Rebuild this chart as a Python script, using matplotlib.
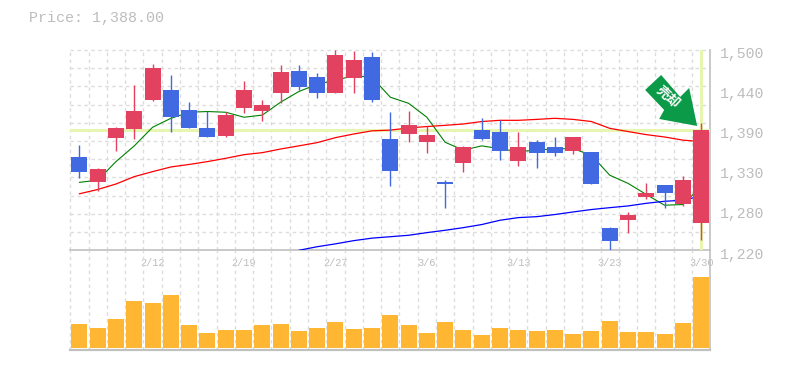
import matplotlib
matplotlib.use('Agg')
import matplotlib.pyplot as plt
from matplotlib.patches import Polygon
from matplotlib.transforms import Affine2D, ScaledTranslation

# candle data
opens = [1350.5, 1315.5, 1377, 1389.6, 1430, 1444, 1416, 1391, 1379.8, 1419, 1414.7, 1440,
         1470.7, 1462, 1440, 1461, 1490, 1375.6, 1382.6, 1371.4, 1315.5, 1342, 1388, 1385.4,
         1345, 1371.4, 1364.4, 1358.8, 1357.4, 1251, 1262.4, 1294.5, 1311, 1284.8, 1258.7]
closes = [1329.5, 1333.7, 1391, 1414.7, 1474.8, 1406.4, 1391, 1378.4, 1409, 1444, 1423, 1469,
          1448.3, 1440, 1493, 1486, 1430, 1331, 1395, 1381, 1312.7, 1364.4, 1375.6, 1358.8,
          1364.4, 1356, 1356, 1378.4, 1312.7, 1233, 1269.4, 1300, 1300, 1318.3, 1388]
highs = [1367, 1335, 1392.4, 1451, 1480.4, 1465, 1427, 1414.7, 1413, 1456.7, 1430, 1479,
         1479, 1468, 1500, 1498.6, 1497, 1413, 1414.7, 1393.8, 1318.3, 1365.8, 1405, 1402,
         1385.4, 1374, 1378.4, 1378.4, 1357.4, 1252.6, 1273.6, 1314, 1311, 1324, 1398]
lows = [1321, 1303.4, 1358.8, 1375.6, 1428.7, 1385.4, 1391, 1378.4, 1378.4, 1412, 1400.8, 1426,
        1444, 1433, 1440, 1440, 1427, 1310, 1371.4, 1356, 1279, 1329.5, 1374, 1346,
        1338, 1335, 1352, 1354.6, 1312.7, 1219, 1244, 1291.7, 1279, 1282, 1234.4]

ma_short = [1315, 1318, 1344, 1366, 1392, 1404.5, 1413, 1414, 1413, 1406, 1409, 1427,
            1442, 1452, 1458, 1463.7, 1462, 1434, 1425.5, 1406, 1371, 1360, 1366, 1362,
            1358, 1360, 1362, 1362, 1353, 1325, 1313.6, 1298, 1283, 1284, 1309]
ma_mid = [1299, 1305, 1312.7, 1323, 1330, 1336.5, 1340, 1344, 1348.6, 1353.7, 1356.5, 1361.6,
          1366, 1370.5, 1377.5, 1382.6, 1387, 1388, 1391, 1393, 1394.7, 1396.6, 1400, 1401.7,
          1401.7, 1403, 1404.5, 1403, 1400, 1390.5, 1386, 1381.7, 1378.4, 1374, 1372]
ma_long = [1220, 1225, 1229, 1233.5, 1237, 1239, 1241, 1244.7, 1248, 1251.7, 1256, 1262,
           1265.7, 1267, 1270, 1273.6, 1277, 1279.6, 1282, 1285.7, 1288.5, 1290, 1296]

volumes = [72, 60, 87, 141, 135, 159, 69, 45, 54, 54, 69, 72, 51, 60, 78, 57, 60, 99,
           69, 45, 78, 54, 39, 60, 54, 51, 54, 42, 51, 81, 48, 48, 42, 75, 213]

date_pos = [4, 9, 14, 19, 24, 29, 34]
date_labels = ['2/12', '2/19', '2/27', '3/6', '3/13', '3/23', '3/30']
price_ticks = [1220, 1276, 1332, 1388, 1444, 1500]
price_labels = ['1,220', '1,280', '1,330', '1,390', '1,440', '1,500']
last_price = 1388

RED = '#e2425f'
BLUE = '#4169e1'
GRID = '#dcdcdc'
AXIS = '#c0c0c0'
MARK = '#e6f5b0'
TEXT = '#bdbdbd'
W, H = 785, 370
LEFT, RIGHT = 70.3, 710.3
TOP, MID, BOTTOM = 50, 250.3, 350

plt.rcParams['font.family'] = ['Liberation Mono', 'DejaVu Sans Mono']

fig = plt.figure(figsize=(W / 100, H / 100), dpi=100)
ax = fig.add_axes([LEFT / W, 1 - MID / H, (RIGHT - LEFT) / W, (MID - TOP) / H])
ax2 = fig.add_axes([LEFT / W, 1 - BOTTOM / H, (RIGHT - LEFT) / W, (BOTTOM - MID) / H])

n = len(opens)
xs = list(range(n))
for a in (ax, ax2):
    a.set_xlim(-0.5, n - 0.5)
    a.patch.set_alpha(0)
    for s in a.spines.values():
        s.set_visible(False)
    # 縦のグリッド
    for i in xs:
        a.axvline(i - 0.5, color=GRID, lw=1, dashes=(2.5, 2.5), zorder=0, clip_on=False)
ax.set_ylim(1220, 1500)
ax2.set_ylim(-6, 293)

# 横のグリッド
step = (1500 - 1220) / 11
for k in range(11):
    ax.axhline(1220 + step * (k + 1), color=GRID, lw=1, dashes=(2.5, 2.5), zorder=0, clip_on=False)

# 枠線
ax.axhline(1220, color=AXIS, lw=1.2, zorder=1, clip_on=False)
ax.axvline(n - 0.5, color=AXIS, lw=1.2, zorder=1, clip_on=False)
ax2.axvline(n - 0.5, color=AXIS, lw=1.2, zorder=1, clip_on=False)
ax2.axhline(ax2.get_ylim()[0], color=AXIS, lw=1.6, zorder=1, clip_on=False)

# 現在値のライン
ax.axhline(last_price, color=MARK, lw=2.2, zorder=2)
ax.axvline(n - 1, ymin=0.005, ymax=0.995, color=MARK, lw=2.2, zorder=2)

# 移動平均
ax.plot(xs, ma_short, color='#008000', lw=0.8, zorder=3)
ax.plot(xs, ma_mid, color='#ff0000', lw=0.9, zorder=3)
ax.plot(xs[n - len(ma_long):], ma_long, color='#0000ff', lw=0.9, zorder=3)

# ローソク足
for i in xs:
    c = RED if closes[i] >= opens[i] else BLUE
    ax.vlines(i, lows[i], highs[i], color=c, lw=1.0, zorder=4, snap=True)
    ax.bar(i, abs(closes[i] - opens[i]), bottom=min(opens[i], closes[i]), width=0.875,
           color=c, zorder=5)

ax2.bar(xs, volumes, width=0.875, color='#ffb733', zorder=3)
ax2.set_xticks([])
ax2.set_yticks([])

ax.set_xticks(date_pos)
ax.set_xticklabels(date_labels, fontsize=7.4, color=TEXT)
ax.tick_params(axis='x', length=0, pad=5.5)
ax.yaxis.tick_right()
ax.set_yticks(price_ticks)
ax.set_yticklabels(price_labels, fontsize=10.7, color=TEXT)
ax.tick_params(axis='y', length=0, pad=7)
shift = ScaledTranslation(0, -2.7 / 100, fig.dpi_scale_trans)
for lab in ax.get_yticklabels():
    lab.set_transform(lab.get_transform() + shift)

fig.text(29 / W, 1 - 18 / H, 'Price: 1,388.00', fontsize=10.8, color=TEXT, va='center')

# 矢印 (最終足の高値からのピクセル差)
ax_x, ax_y = ax.transData.transform((n - 1, highs[-1]))
arrow = [(-40, 48), (-56, 33), (-37, 13), (-42, 4), (-4, -3), (-12, 35), (-21, 26)]
ax.add_patch(Polygon(arrow, closed=True, facecolor='#0a9a48', edgecolor='none', zorder=6,
                     transform=Affine2D().translate(ax_x, ax_y), clip_on=False))
ax.text(-33, 26, '売却', transform=Affine2D().translate(ax_x, ax_y), color='white', fontsize=9.5,
        rotation=-42, ha='center', va='center', zorder=7, fontweight='bold',
        family=['Noto Sans CJK JP', 'DejaVu Sans'], clip_on=False)

fig.savefig('out.png', dpi=100)
